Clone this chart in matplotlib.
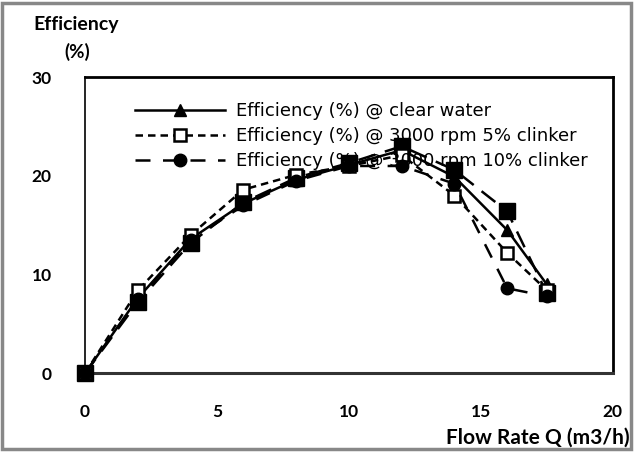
import matplotlib.pyplot as plt
from matplotlib.patches import Rectangle

plt.rcParams['font.family'] = ['Lato', 'DejaVu Sans']

# flow rate Q (m3/h)
flow = [0, 2, 4, 6, 8, 10, 12, 14, 16, 17.5]

# efficiency (%) per test
eff_clear = [0, 7.6, 13.6, 17.2, 19.6, 21.1, 22.6, 19.9, 14.5, 9.0]
eff_5pct = [0, 8.4, 14.0, 18.6, 20.1, 21.0, 22.1, 18.0, 12.2, 8.4]
eff_10pct = [0, 7.5, 13.5, 17.0, 19.5, 21.0, 21.0, 19.2, 8.6, 7.8]
eff_extra = [0, 7.2, 13.2, 17.3, 19.8, 21.3, 23.0, 20.6, 16.4, 8.1]

labels = [
    "Efficiency (%) @ clear water",
    "Efficiency (%) @ 3000 rpm 5% clinker",
    "Efficiency (%) @ 3000 rpm 10% clinker",
]

fig = plt.figure(figsize=(6.35, 4.54), dpi=100)
ax = fig.add_axes([0.134, 0.178, 0.831, 0.652])

ax.plot(flow, eff_extra, color="black", lw=1.8, ls=(0, (7, 4)),
        marker="s", ms=11, mfc="black", mec="black", zorder=3, clip_on=False)
ax.plot(flow, eff_clear, color="black", lw=1.8, ls="-",
        marker="^", ms=9, mfc="black", mec="black", label=labels[0],
        zorder=4, clip_on=False)
ax.plot(flow, eff_5pct, color="black", lw=1.8, ls=(0, (3, 2)),
        marker="s", ms=9, mfc="white", mec="black", mew=1.8,
        label=labels[1], zorder=4, clip_on=False)
ax.plot(flow, eff_10pct, color="black", lw=1.8, ls=(0, (6, 5)),
        marker="o", ms=9, mfc="black", mec="black", label=labels[2],
        zorder=4, clip_on=False)

ax.set_xlim(0, 20)
ax.set_ylim(0, 30)
ax.set_xticks([0, 5, 10, 15, 20])
ax.set_yticks([0, 10, 20, 30])
ax.tick_params(length=0, labelsize=12.5)
ax.tick_params(axis="x", pad=22)
ax.tick_params(axis="y", pad=24)
for t in ax.get_xticklabels() + ax.get_yticklabels():
    t.set_fontweight("bold")

for side in ["top", "right"]:
    ax.spines[side].set_linewidth(2)
ax.spines["left"].set_linewidth(1.2)
ax.spines["bottom"].set_linewidth(2.2)
ax.spines["bottom"].set_color("#333333")

fig.text(0.053, 0.945, "Efficiency", fontsize=14, fontweight="bold",
         ha="left", va="center")
fig.text(0.102, 0.885, "(%)", fontsize=13.5, fontweight="bold",
         ha="left", va="center")
fig.text(0.992, 0.037, "Flow Rate Q (m3/h)", fontsize=15, fontweight="bold",
         ha="right", va="center")

leg = ax.legend(loc="upper left", bbox_to_anchor=(0.095, 0.915), frameon=False,
                prop={"family": "DejaVu Sans", "size": 13},
                handlelength=5.0, handletextpad=0.6,
                labelspacing=0.38, borderaxespad=0, borderpad=0)

# grey outline round the whole chart
fig.patches.append(Rectangle((0.003, 0.012), 0.99, 0.982, transform=fig.transFigure,
                             fill=False, ec="#888888", lw=2.5))

fig.savefig("out.png", dpi=100)
